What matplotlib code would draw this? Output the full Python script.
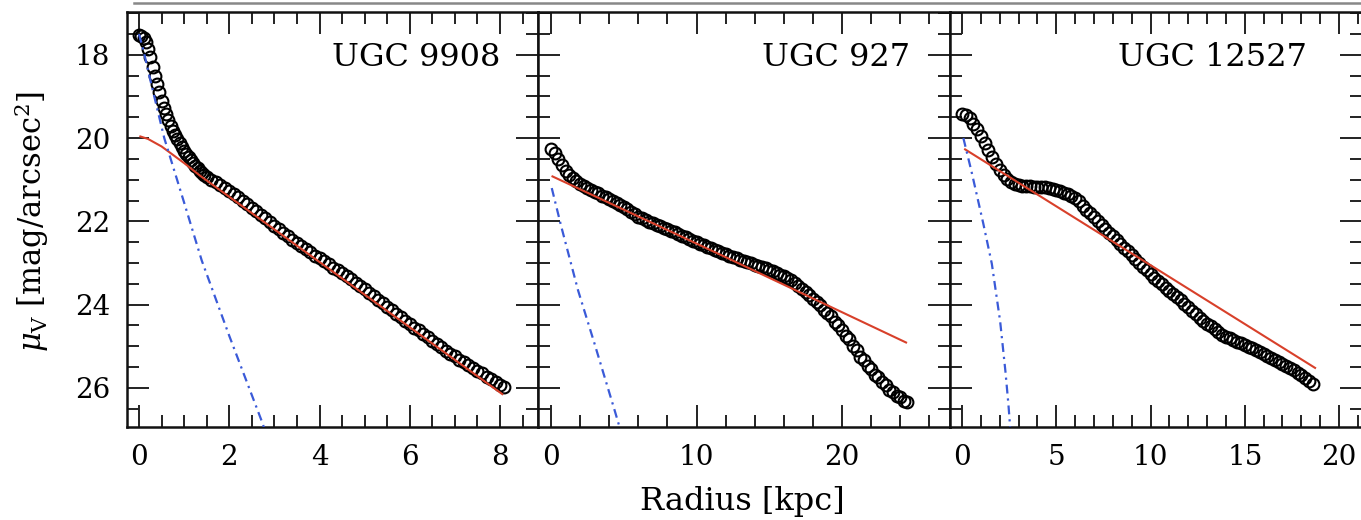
import matplotlib
matplotlib.use('Agg')
import matplotlib.pyplot as plt
from matplotlib.lines import Line2D
from matplotlib.ticker import MultipleLocator

plt.rcParams['font.family'] = ['DejaVu Serif']
plt.rcParams['mathtext.fontset'] = 'dejavuserif'

W, H = 1361, 520

names = ['UGC 9908', 'UGC 927', 'UGC 12527']

# ---------------- UGC 9908 ----------------
r1 = [0.00, 0.05, 0.10, 0.15, 0.20, 0.25, 0.30, 0.35, 0.40, 0.45, 0.50, 0.55, 0.60,
      0.65, 0.70, 0.75, 0.80, 0.85, 0.90, 0.95, 1.00, 1.05, 1.10, 1.15, 1.20, 1.25,
      1.30, 1.35, 1.40, 1.45, 1.50, 1.6, 1.7, 1.8, 1.9, 2.0, 2.1, 2.2, 2.3, 2.4, 2.5,
      2.6, 2.7, 2.8, 2.9, 3.0, 3.1, 3.2, 3.3, 3.4, 3.5, 3.6, 3.7, 3.8, 3.9, 4.0, 4.1,
      4.2, 4.3, 4.4, 4.5, 4.6, 4.7, 4.8, 4.9, 5.0, 5.1, 5.2, 5.3, 5.4, 5.5, 5.6, 5.7,
      5.8, 5.9, 6.0, 6.1, 6.2, 6.3, 6.4, 6.5, 6.6, 6.7, 6.8, 6.9, 7.0, 7.1, 7.2, 7.3,
      7.4, 7.5, 7.6, 7.7, 7.8, 7.9, 8.0, 8.08]
mu1 = [17.53, 17.55, 17.60, 17.70, 17.85, 18.05, 18.28, 18.50, 18.70, 18.90, 19.10,
       19.27, 19.42, 19.57, 19.70, 19.82, 19.93, 20.03, 20.12, 20.21, 20.30, 20.38,
       20.45, 20.53, 20.60, 20.66, 20.72, 20.78, 20.83, 20.88, 20.93, 21.00, 21.06,
       21.13, 21.20, 21.27, 21.34, 21.41, 21.50, 21.58, 21.67, 21.76, 21.85, 21.93,
       22.02, 22.10, 22.19, 22.27, 22.36, 22.44, 22.53, 22.60, 22.67, 22.74, 22.82,
       22.89, 22.96, 23.03, 23.11, 23.18, 23.25, 23.32, 23.39, 23.47, 23.55, 23.63,
       23.71, 23.80, 23.88, 23.96, 24.05, 24.13, 24.22, 24.30, 24.39, 24.47, 24.55,
       24.62, 24.70, 24.78, 24.87, 24.94, 25.03, 25.12, 25.19, 25.24, 25.33, 25.38,
       25.45, 25.52, 25.60, 25.64, 25.73, 25.78, 25.86, 25.93, 25.99]
r1_disk = [0.03, 0.2, 0.5, 1.0, 1.35, 8.05]
mu1_disk = [19.96, 20.02, 20.20, 20.60, 20.90, 26.15]
r1_bulge = [0.0, 0.1, 0.25, 0.56, 1.0, 1.39, 2.0, 2.72, 2.85]
mu1_bulge = [17.5, 17.9, 18.6, 20.0, 21.55, 22.94, 24.75, 26.8, 27.2]

# ---------------- UGC 927 ----------------
r2 = [0.00, 0.25, 0.50, 0.75, 1.00, 1.25, 1.50, 1.75, 2.00, 2.25, 2.50, 2.75, 3.00,
      3.25, 3.50, 3.75, 4.00, 4.25, 4.50, 4.75, 5.00, 5.25, 5.50, 5.75, 6.00, 6.25,
      6.50, 6.75, 7.00, 7.25, 7.50, 7.75, 8.00, 8.25, 8.50, 8.75, 9.00, 9.25, 9.50,
      9.75, 10.00, 10.25, 10.50, 10.75, 11.00, 11.25, 11.50, 11.75, 12.00, 12.25,
      12.50, 12.75, 13.00, 13.25, 13.50, 13.75, 14.00, 14.25, 14.50, 14.75, 15.00,
      15.25, 15.50, 15.75, 16.00, 16.25, 16.50, 16.75, 17.00, 17.25, 17.50, 17.75,
      18.00, 18.25, 18.50, 18.75, 19.00, 19.25, 19.50, 19.75, 20.00, 20.25, 20.50,
      20.75, 21.00, 21.25, 21.50, 21.75, 22.00, 22.25, 22.50, 22.75, 23.00, 23.25,
      23.50, 23.75, 24.00, 24.25, 24.45]
mu2 = [20.25, 20.36, 20.50, 20.65, 20.78, 20.89, 20.97, 21.04, 21.10, 21.16, 21.21,
       21.25, 21.29, 21.33, 21.38, 21.42, 21.47, 21.51, 21.55, 21.60, 21.66, 21.71,
       21.77, 21.83, 21.89, 21.93, 21.97, 22.01, 22.05, 22.08, 22.12, 22.15, 22.18,
       22.22, 22.26, 22.30, 22.34, 22.38, 22.42, 22.46, 22.50, 22.54, 22.57, 22.61,
       22.64, 22.68, 22.72, 22.76, 22.79, 22.82, 22.86, 22.89, 22.92, 22.95, 22.98,
       23.01, 23.04, 23.07, 23.10, 23.13, 23.16, 23.20, 23.24, 23.28, 23.32, 23.37,
       23.42, 23.48, 23.55, 23.62, 23.70, 23.78, 23.86, 23.94, 24.02, 24.13, 24.20,
       24.28, 24.42, 24.49, 24.62, 24.75, 24.83, 25.00, 25.08, 25.25, 25.33, 25.48,
       25.55, 25.68, 25.74, 25.87, 25.92, 26.05, 26.09, 26.19, 26.23, 26.31, 26.35]
r2_disk = [0.1, 12.0, 24.4]
mu2_disk = [20.92, 22.86, 24.91]
r2_bulge = [0.05, 0.7, 1.86, 3.0, 4.38, 4.8]
mu2_bulge = [21.2, 22.12, 23.66, 24.95, 26.55, 27.05]

# ---------------- UGC 12527 ----------------
r3 = [0.0, 0.2, 0.4, 0.6, 0.8, 1.0, 1.2, 1.4, 1.6, 1.8, 2.0, 2.2, 2.4, 2.6, 2.8, 3.0,
      3.2, 3.4, 3.6, 3.8, 4.0, 4.2, 4.4, 4.6, 4.8, 5.0, 5.2, 5.4, 5.6, 5.8, 6.0, 6.2,
      6.4, 6.6, 6.8, 7.0, 7.2, 7.4, 7.6, 7.8, 8.0, 8.2, 8.4, 8.6, 8.8, 9.0, 9.2, 9.4,
      9.6, 9.8, 10.0, 10.2, 10.4, 10.6, 10.8, 11.0, 11.2, 11.4, 11.6, 11.8, 12.0, 12.2,
      12.4, 12.6, 12.8, 13.0, 13.2, 13.4, 13.6, 13.8, 14.0, 14.2, 14.4, 14.6, 14.8,
      15.0, 15.2, 15.4, 15.6, 15.8, 16.0, 16.2, 16.4, 16.6, 16.8, 17.0, 17.2, 17.4,
      17.6, 17.8, 18.0, 18.2, 18.4, 18.6]
mu3 = [19.41, 19.44, 19.52, 19.65, 19.79, 19.94, 20.11, 20.29, 20.46, 20.62, 20.76,
       20.88, 20.98, 21.05, 21.10, 21.13, 21.14, 21.15, 21.16, 21.17, 21.17, 21.17,
       21.18, 21.20, 21.22, 21.25, 21.28, 21.31, 21.35, 21.40, 21.45, 21.52, 21.62,
       21.72, 21.81, 21.90, 21.99, 22.09, 22.18, 22.27, 22.36, 22.45, 22.54, 22.63,
       22.72, 22.81, 22.90, 22.99, 23.09, 23.18, 23.27, 23.35, 23.43, 23.51, 23.59,
       23.67, 23.75, 23.82, 23.90, 23.98, 24.06, 24.15, 24.23, 24.31, 24.39, 24.46,
       24.52, 24.59, 24.65, 24.72, 24.78, 24.81, 24.85, 24.89, 24.93, 24.97, 25.01,
       25.05, 25.09, 25.13, 25.18, 25.23, 25.28, 25.32, 25.37, 25.42, 25.47, 25.52,
       25.58, 25.64, 25.70, 25.76, 25.83, 25.90]
r3_disk = [0.16, 18.73]
mu3_disk = [20.27, 25.52]
r3_bulge = [0.07, 0.5, 1.13, 1.58, 2.02, 2.3, 2.46, 2.56]
mu3_bulge = [20.0, 20.8, 22.06, 23.02, 24.4, 25.6, 26.4, 27.0]

x_limits = [(-0.266, 8.83), (-0.93, 27.42), (-0.64, 21.22)]
x_major = [2, 10, 5]
x_minor = [0.5, 2, 1]
y_limits = (26.94, 16.97)
label_x = [0.9087, 0.903, 0.8665]

# panel pixel edges
edges = [(127, 537.5), (537.5, 950), (950, 1362)]
top_px, bot_px = 12, 427

fig = plt.figure(figsize=(W / 100, H / 100), dpi=100)

datasets = [
    (r1, mu1, r1_disk, mu1_disk, r1_bulge, mu1_bulge),
    (r2, mu2, r2_disk, mu2_disk, r2_bulge, mu2_bulge),
    (r3, mu3, r3_disk, mu3_disk, r3_bulge, mu3_bulge),
]

red = '#d8402a'
blue = '#3a5ad8'

for i, (rr, mm, rd, md, rb, mb) in enumerate(datasets):
    l, rgt = edges[i]
    ax = fig.add_axes([l / W, 1 - bot_px / H, (rgt - l) / W, (bot_px - top_px) / H])
    ax.plot(rr, mm, linestyle='none', marker='o', markersize=8.5, markerfacecolor='none',
            markeredgecolor='black', markeredgewidth=1.5, zorder=2)
    ax.plot(rd, md, color=red, lw=1.5, zorder=3)
    ax.plot(rb, mb, color=blue, lw=1.6, linestyle=(0, (4, 2.2, 1, 2.2)), zorder=3)
    ax.set_xlim(*x_limits[i])
    ax.set_ylim(*y_limits)
    ax.xaxis.set_major_locator(MultipleLocator(x_major[i]))
    ax.xaxis.set_minor_locator(MultipleLocator(x_minor[i]))
    ax.yaxis.set_major_locator(MultipleLocator(2))
    ax.yaxis.set_minor_locator(MultipleLocator(0.5))
    ax.tick_params(which='both', direction='in', top=True, right=True,
                   width=1.4, color='#222222', labelsize=20)
    ax.tick_params(which='major', length=15.5, pad=12)
    ax.tick_params(which='minor', length=8.5)
    if i > 0:
        ax.tick_params(labelleft=False)
    for s in ax.spines.values():
        s.set_linewidth(1.8)
        s.set_color('#111111')
    ax.text(label_x[i], 0.87, names[i], transform=ax.transAxes, ha='right',
            va='baseline', fontsize=23)

fig.text(742 / W, 1 - 510 / H, 'Radius [kpc]', ha='center', va='baseline', fontsize=23)
fig.text(32 / W, 1 - 221 / H, r'$\mu_{\rm V}$ [mag/arcsec$^2$]', rotation=90,
         ha='center', va='center', fontsize=22)

fig.add_artist(Line2D([134 / W, 1.0], [1 - 3 / H, 1 - 3 / H], color='#888888', lw=1.8))

fig.savefig('out.png', dpi=100)
